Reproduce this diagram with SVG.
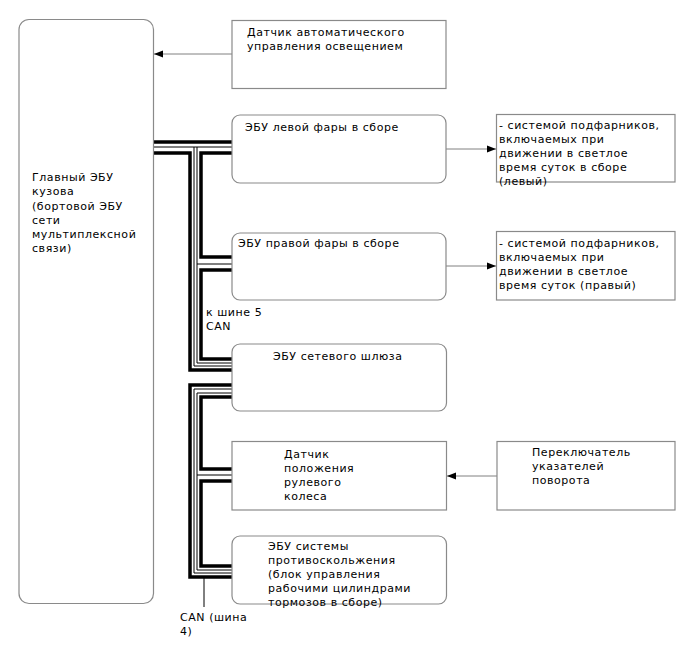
<svg xmlns="http://www.w3.org/2000/svg" width="688" height="658" viewBox="0 0 688 658">
<style>
.box{fill:#fff;stroke:#8a8a8a;stroke-width:1.2}
.t{font-family:"DejaVu Sans","Liberation Sans",sans-serif;font-size:11px;letter-spacing:0.55px;fill:#000}
.arr{fill:none;stroke:#808080;stroke-width:1}
.thick{fill:none;stroke:#000;stroke-width:3.5}
.thin{fill:none;stroke:#000;stroke-width:1}
</style>
<defs>
<marker id="ah" viewBox="0 0 10 10" refX="10" refY="5" markerWidth="9" markerHeight="9" markerUnits="userSpaceOnUse" orient="auto">
<path d="M0,1 L10,5 L0,9 Z" fill="#000"/>
</marker>
</defs>
<rect width="688" height="658" fill="#fff"/>

<g id="connectors">
<path class="arr" d="M232,54 H154" marker-end="url(#ah)"/>
<path class="arr" d="M446,149 H496" marker-end="url(#ah)"/>
<path class="arr" d="M446,266 H496" marker-end="url(#ah)"/>
<path class="arr" d="M497,476 H447" marker-end="url(#ah)"/>
<!-- CAN bus 5 -->
<path class="thick" d="M153,142 H232"/>
<path class="thin" d="M153,147 H232"/>
<path class="thick" d="M153,153 H190 V370 H232"/>
<path class="thin" d="M194,147 V366 H232"/>
<path class="thin" d="M197,147 V363 H232 M197,264 H232"/>
<path class="thick" d="M232,153 H201 V257 H232"/>
<path class="thick" d="M232,270 H201 V359 H232"/>
<!-- CAN bus 4 -->
<path class="thick" d="M232,385 H190 V577 H232"/>
<path class="thin" d="M232,389 H194 V573 H232"/>
<path class="thin" d="M232,393 H197 V570 H232 M197,475 H232"/>
<path class="thick" d="M232,397 H201 V469 H232"/>
<path class="thick" d="M232,481 H201 V566 H232"/>
<path class="thin" d="M204,578 V607"/>
</g>

<g id="main-ecu">
<rect class="box" x="19" y="19.5" width="134.5" height="584" rx="10"/>
<text class="t" x="32" y="181">Главный ЭБУ</text>
<text class="t" x="32" y="195">кузова</text>
<text class="t" x="32" y="210">(бортовой ЭБУ</text>
<text class="t" x="32" y="224">сети</text>
<text class="t" x="32" y="238">мультиплексной</text>
<text class="t" x="32" y="252">связи)</text>
</g>

<g id="auto-light-sensor">
<rect class="box" x="232" y="20.5" width="214" height="68"/>
<text class="t" x="247" y="36">Датчик автоматического</text>
<text class="t" x="247" y="50">управления освещением</text>
</g>

<g id="lh-headlamp-ecu">
<rect class="box" x="232" y="115" width="214" height="68" rx="8"/>
<text class="t" x="245" y="131">ЭБУ левой фары в сборе</text>
</g>

<g id="lh-drl">
<rect class="box" x="496.5" y="114.5" width="178.5" height="67.5"/>
<text class="t" x="499" y="129">- системой подфарников,</text>
<text class="t" x="499" y="143">включаемых при</text>
<text class="t" x="499" y="157">движении в светлое</text>
<text class="t" x="499" y="171">время суток в сборе</text>
<text class="t" x="499" y="185">(левый)</text>
</g>

<g id="rh-headlamp-ecu">
<rect class="box" x="232" y="233" width="214" height="67" rx="8"/>
<text class="t" x="238" y="247">ЭБУ правой фары в сборе</text>
</g>

<g id="rh-drl">
<rect class="box" x="496.5" y="231.5" width="178.5" height="68.5"/>
<text class="t" x="499" y="247">- системой подфарников,</text>
<text class="t" x="499" y="261">включаемых при</text>
<text class="t" x="499" y="275">движении в светлое</text>
<text class="t" x="499" y="289">время суток (правый)</text>
</g>

<g id="bus5-label">
<text class="t" x="206" y="316">к шине 5</text>
<text class="t" x="206" y="330">CAN</text>
</g>

<g id="gateway-ecu">
<rect class="box" x="232" y="344" width="214.5" height="67" rx="8"/>
<text class="t" x="273" y="360">ЭБУ сетевого шлюза</text>
</g>

<g id="steering-sensor">
<rect class="box" x="232" y="441.5" width="214.5" height="68.5"/>
<text class="t" x="284" y="458">Датчик</text>
<text class="t" x="284" y="472">положения</text>
<text class="t" x="284" y="486">рулевого</text>
<text class="t" x="284" y="500">колеса</text>
</g>

<g id="turn-switch">
<rect class="box" x="497" y="441.5" width="178" height="68.5"/>
<text class="t" x="532" y="456">Переключатель</text>
<text class="t" x="532" y="470">указателей</text>
<text class="t" x="532" y="484">поворота</text>
</g>

<g id="abs-ecu">
<rect class="box" x="232" y="536" width="214.5" height="68" rx="8"/>
<text class="t" x="268" y="550">ЭБУ системы</text>
<text class="t" x="268" y="564">противоскольжения</text>
<text class="t" x="268" y="578">(блок управления</text>
<text class="t" x="268" y="592">рабочими цилиндрами</text>
<text class="t" x="268" y="606">тормозов в сборе)</text>
</g>

<g id="bus4-label">
<text class="t" x="180" y="621">CAN (шина</text>
<text class="t" x="180" y="635">4)</text>
</g>
</svg>
